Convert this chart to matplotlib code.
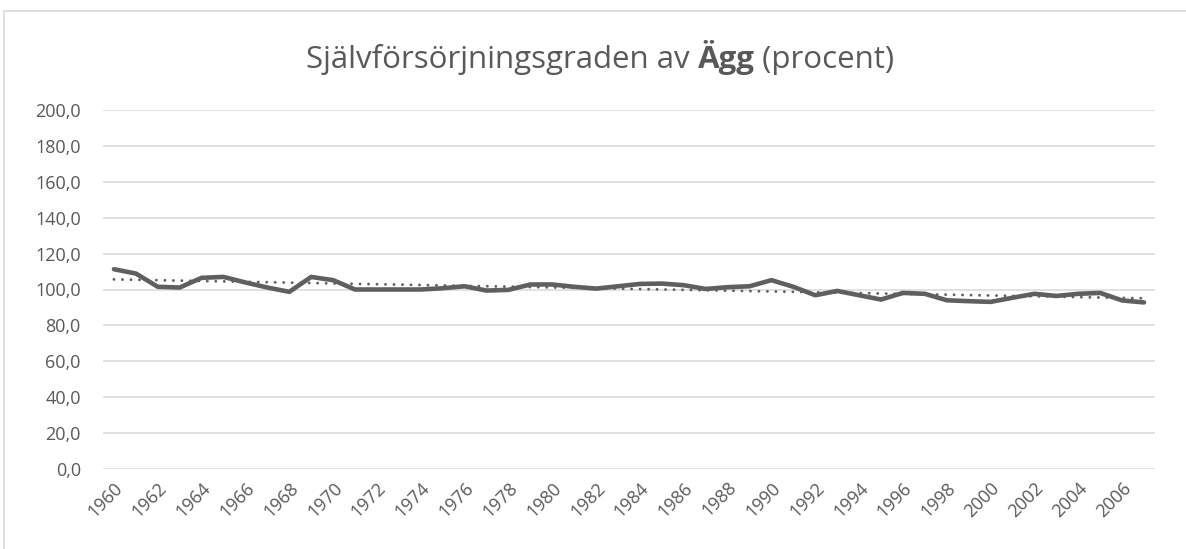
import matplotlib
matplotlib.use("Agg")
import matplotlib.pyplot as plt
import numpy as np
from matplotlib.offsetbox import TextArea, HPacker, AnchoredOffsetbox
from matplotlib.patches import Rectangle

# Data (egg self-sufficiency, percent)
years = list(range(1960, 2008))
values = [111.3, 108.9, 101.5, 101.1, 106.5, 107.0, 103.9, 101.1, 98.7, 107.0,
          105.2, 100.0, 100.0, 100.0, 100.0, 100.7, 101.8, 99.4, 99.8, 102.8,
          102.8, 101.5, 100.5, 101.8, 103.1, 103.3, 102.4, 100.3, 101.3, 101.8,
          105.2, 101.5, 96.8, 99.2, 96.8, 94.4, 98.1, 97.6, 94.0, 93.5,
          93.1, 95.4, 97.6, 96.4, 97.6, 98.1, 93.9, 92.8]
y_ticks = [0, 20, 40, 60, 80, 100, 120, 140, 160, 180, 200]
x_label_years = years[::2]
title_parts = [("Självförsörjningsgraden av ", "normal"), ("Ägg", "bold"), (" (procent)", "normal")]

plt.rcParams['font.family'] = ['Open Sans', 'DejaVu Sans']
grey = "#595959"
line_col = "#5f5f5f"
grid_col = "#d9d9d9"

fig = plt.figure(figsize=(11.86, 5.49), dpi=100)
ax = fig.add_axes([103 / 1186, 1 - 469 / 549, (1155 - 103) / 1186, (469 - 110) / 549])

x = np.arange(len(years))
ax.plot(x, values, color=line_col, linewidth=3.3, solid_joinstyle="round",
        solid_capstyle="round", zorder=3)

# linear trendline
coef = np.polyfit(x, values, 1)
ax.plot(x, np.polyval(coef, x), color=line_col, linewidth=2.1,
        linestyle=(0, (0.01, 2.9)), dash_capstyle="round", zorder=2)

ax.set_xlim(-0.5, len(years) - 0.5)
ax.set_ylim(0, 200)
ax.set_yticks(y_ticks)
ax.set_yticklabels([f"{v:.1f}".replace(".", ",") for v in y_ticks], fontsize=13, color=grey)
tick_pos = [years.index(yr) for yr in x_label_years]
ax.set_xticks(tick_pos)
ax.set_xticklabels([str(yr) for yr in x_label_years], rotation=45, ha="right", va="top",
                   rotation_mode="anchor", fontsize=13, color=grey)
ax.tick_params(axis="both", length=0)
ax.tick_params(axis="y", pad=16)
ax.tick_params(axis="x", pad=7)
ax.grid(axis="y", color=grid_col, linewidth=1.1)
ax.set_axisbelow(True)
for s in ax.spines.values():
    s.set_visible(False)

# title with bold word
areas = [TextArea(t, textprops=dict(fontsize=22.5, color=grey, fontweight=w)) for t, w in title_parts]
box = HPacker(children=areas, align="baseline", pad=0, sep=0)
anch = AnchoredOffsetbox(loc="center", child=box, pad=0, borderpad=0, frameon=False,
                         bbox_to_anchor=(0.506, 0.895), bbox_transform=fig.transFigure)
fig.add_artist(anch)

# chart border
fig.add_artist(Rectangle((4 / 1186, -0.01), 1.0, 1 - 11 / 549 + 0.01, transform=fig.transFigure,
                         fill=False, edgecolor=grid_col, linewidth=1.2))

fig.savefig("out.png", dpi=100)
